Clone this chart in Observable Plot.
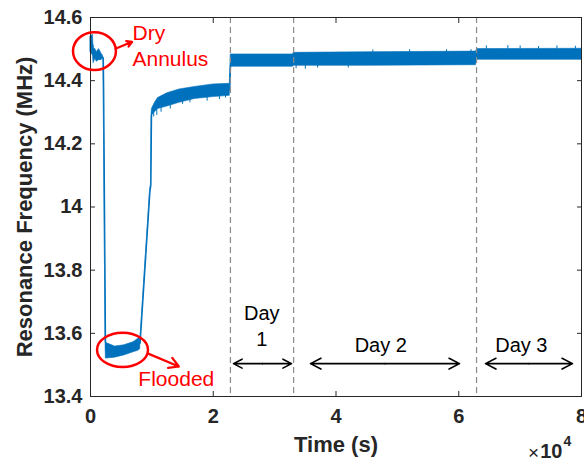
<!DOCTYPE html>
<html>
<head>
<meta charset="utf-8">
<script src="https://cdn.jsdelivr.net/npm/d3@7"></script>
<script src="https://cdn.jsdelivr.net/npm/@observablehq/plot@0.6"></script>
<style>
  html, body { margin: 0; padding: 0; background: #fff; }
  #chart svg { display: block; overflow: visible; }
</style>
</head>
<body>
<div id="chart"></div>
<script>
// ---- Data (time in units of 10^4 s, frequency in MHz) ----
const xTicks = [0, 2, 4, 6, 8];
const yTicks = [13.4, 13.6, 13.8, 14, 14.2, 14.4, 14.6];

// Envelope of the noisy trace: time, lower edge, upper edge
const timeT = [0.00, 0.04, 0.05, 0.08, 0.10, 0.14, 0.18, 0.20, 0.21, 0.215, 0.245,
               0.25, 0.40, 0.55, 0.70, 0.78, 0.81, 0.815, 0.97, 0.985, 0.995,
               1.00, 1.05, 1.10, 1.25, 1.45, 1.70, 2.00, 2.27,
               2.285, 3.30, 3.31, 4.50, 6.28, 6.30, 8.00];
const freqLo = [14.49, 14.48, 14.455, 14.47, 14.46, 14.465, 14.465, 14.47, 14.47, 14.38, 13.575,
                13.52, 13.523, 13.53, 13.54, 13.545, 13.55, 13.585, 14.05, 14.07, 14.29,
                14.29, 14.30, 14.31, 14.318, 14.33, 14.342, 14.348, 14.352,
                14.444, 14.444, 14.447, 14.447, 14.449, 14.466, 14.466];
const freqHi = [14.54, 14.545, 14.50, 14.50, 14.49, 14.50, 14.485, 14.48, 14.47, 14.38, 13.575,
                13.57, 13.558, 13.562, 13.572, 13.583, 13.588, 13.585, 14.05, 14.07, 14.29,
                14.31, 14.33, 14.345, 14.36, 14.372, 14.38, 14.388, 14.39,
                14.483, 14.483, 14.488, 14.49, 14.492, 14.50, 14.501];

// Isolated noise spikes
const spikeT    = [1.03, 1.08, 1.15, 1.30, 1.50, 1.62, 1.90, 2.10, 2.20,
                   3.35, 3.50, 3.70, 4.20, 4.60, 5.20, 5.80, 6.20,
                   6.45, 6.80, 7.00, 7.30, 7.60, 7.90];
const spikeFrom = [14.30, 14.31, 14.32, 14.33, 14.34, 14.345, 14.35, 14.35, 14.355,
                   14.45, 14.45, 14.45, 14.45, 14.49, 14.49, 14.49, 14.49,
                   14.50, 14.50, 14.50, 14.50, 14.50, 14.50];
const spikeTo   = [14.285, 14.29, 14.30, 14.31, 14.325, 14.33, 14.335, 14.34, 14.345,
                   14.438, 14.436, 14.44, 14.44, 14.497, 14.498, 14.498, 14.498,
                   14.51, 14.511, 14.51, 14.508, 14.51, 14.509];

const dashX = [2.28, 3.31, 6.29];

// Annotations
const dayText  = ["Day\n1", "Day 2", "Day 3"];
const dayTextX = [2.79, 4.73, 7.02];
const dayTextY = [13.627, 13.566, 13.566];
const dayArrowX1 = [2.33, 3.585, 6.436];
const dayArrowX2 = [3.275, 6.012, 7.853];
const dayArrowY  = [13.504, 13.504, 13.504];

const redText  = ["Dry\nAnnulus", "Flooded"];
const redTextX = [0.684, 0.78];
const redTextY = [14.513, 13.459];
const redArrowX1 = [0.407, 0.950];
const redArrowY1 = [14.501, 13.535];
const redArrowX2 = [0.679, 1.439];
const redArrowY2 = [14.523, 13.495];
const ellipseX  = [0.073, 0.530];
const ellipseY  = [14.492, 13.546];
const ellipseRX = [0.350, 0.415];
const ellipseRY = [0.060, 0.054];

// ---- Build tables ----
const blue = "#0072BD";
const axisColor = "#262626";
const series = timeT.map((t, i) => ({t, lo: freqLo[i], hi: freqHi[i]}));
const spikes = spikeT.map((t, i) => ({t, a: spikeFrom[i], b: spikeTo[i]}));
const days = dayText.map((s, i) => ({s, x: dayTextX[i], y: dayTextY[i]}));
const dayArrows = dayArrowX1.map((x1, i) => ({x1, x2: dayArrowX2[i], y: dayArrowY[i], xm: (x1 + dayArrowX2[i]) / 2}));
const reds = redText.map((s, i) => ({s, x: redTextX[i], y: redTextY[i]}));
const redArrows = redArrowX1.map((x1, i) => ({x1, y1: redArrowY1[i], x2: redArrowX2[i], y2: redArrowY2[i]}));

const font = "'Liberation Sans', Arial, Helvetica, sans-serif";

const chart = Plot.plot({
  width: 584,
  height: 462,
  marginLeft: 90,
  marginRight: 3,
  marginTop: 17,
  marginBottom: 66,
  style: {fontFamily: font, fontSize: "20px", fontWeight: "bold", color: axisColor, background: "#fff", overflow: "visible"},
  x: {domain: [0, 8]},
  y: {domain: [13.4, 14.6]},
  marks: [
    // data
    Plot.areaY(series, {x: "t", y1: "lo", y2: "hi", fill: blue, stroke: blue, strokeWidth: 0.6, curve: "linear"}),
    Plot.line(series, {x: "t", y: d => (d.lo + d.hi) / 2, stroke: blue, strokeWidth: 1.3, curve: "linear"}),
    Plot.ruleX(spikes, {x: "t", y1: "a", y2: "b", stroke: blue, strokeWidth: 1}),
    // dashed day separators
    Plot.ruleX(dashX, {stroke: "#8a8a8a", strokeWidth: 1.2, strokeDasharray: "6,4"}),
    // frame and inward ticks
    Plot.frame({stroke: axisColor, strokeWidth: 1}),
    Plot.axisX(xTicks, {anchor: "bottom", tickSize: 5, dy: -5, tickFormat: () => "", label: null, stroke: axisColor}),
    Plot.axisX(xTicks, {anchor: "top", tickSize: 5, dy: 5, tickFormat: () => "", label: null, stroke: axisColor}),
    Plot.axisY(yTicks, {anchor: "left", tickSize: 5, dx: 5, tickFormat: () => "", label: null, stroke: axisColor}),
    Plot.axisY(yTicks, {anchor: "right", tickSize: 5, dx: -5, tickFormat: () => "", label: null, stroke: axisColor}),
    // tick labels
    Plot.axisX(xTicks, {anchor: "bottom", tickSize: 0, tickPadding: 12, label: null, fontSize: 20, fontWeight: "bold", fill: axisColor, tickFormat: d => String(d)}),
    Plot.axisY(yTicks, {anchor: "left", tickSize: 0, tickPadding: 8, label: null, fontSize: 20, fontWeight: "bold", fill: axisColor, tickFormat: d => String(d)}),
    // axis titles
    Plot.text(["Time (s)"], {frameAnchor: "bottom", dy: 48, textAnchor: "middle", lineAnchor: "middle", fontSize: 22, fontWeight: "bold", fill: axisColor}),
    Plot.text(["Resonance Frequency (MHz)"], {frameAnchor: "left", dx: -66, rotate: -90, textAnchor: "middle", lineAnchor: "middle", fontSize: 22, fontWeight: "bold", fill: axisColor}),
    // exponent
    Plot.text(["×"], {frameAnchor: "bottom-right", dx: -48, dy: 56, textAnchor: "middle", lineAnchor: "middle", fontSize: 19, fontWeight: "normal", fill: axisColor}),
    Plot.text(["10"], {frameAnchor: "bottom-right", dx: -19, dy: 55.5, textAnchor: "end", lineAnchor: "middle", fontSize: 20, fontWeight: "bold", fill: axisColor}),
    Plot.text(["4"], {frameAnchor: "bottom-right", dx: -18, dy: 45, textAnchor: "start", lineAnchor: "middle", fontSize: 14, fontWeight: "bold", fill: axisColor}),
    // day annotations
    Plot.text(days, {x: "x", y: "y", text: "s", textAnchor: "middle", fontSize: 20, fontWeight: "normal", fill: "#000", lineHeight: 1.3, lineAnchor: "middle"}),
    Plot.arrow(dayArrows, {x1: "xm", x2: "x1", y1: "y", y2: "y", stroke: "#000", strokeWidth: 1.6, headLength: 11, headAngle: 55}),
    Plot.arrow(dayArrows, {x1: "xm", x2: "x2", y1: "y", y2: "y", stroke: "#000", strokeWidth: 1.6, headLength: 11, headAngle: 55}),
    // red annotations
    Plot.text(reds, {x: "x", y: "y", text: "s", textAnchor: "start", fontSize: 21, fontWeight: "normal", fill: "#ff0000", lineHeight: 1.24, lineAnchor: "middle"}),
    Plot.arrow(redArrows, {x1: "x1", y1: "y1", x2: "x2", y2: "y2", stroke: "#ff0000", strokeWidth: 2.2, headLength: 10, headAngle: 60})
  ]
});

// Ellipses placed through the plot's own scales
const sx = chart.scale("x"), sy = chart.scale("y");
const g = d3.select(chart).append("g").attr("fill", "none").attr("stroke", "#ff0000").attr("stroke-width", 2.5);
ellipseX.forEach((cx, i) => {
  const px = sx.apply(cx), py = sy.apply(ellipseY[i]);
  g.append("ellipse")
    .attr("cx", px).attr("cy", py)
    .attr("rx", Math.abs(sx.apply(cx + ellipseRX[i]) - px))
    .attr("ry", Math.abs(sy.apply(ellipseY[i] + ellipseRY[i]) - py));
});

document.getElementById("chart").appendChild(chart);
</script>
</body>
</html>
